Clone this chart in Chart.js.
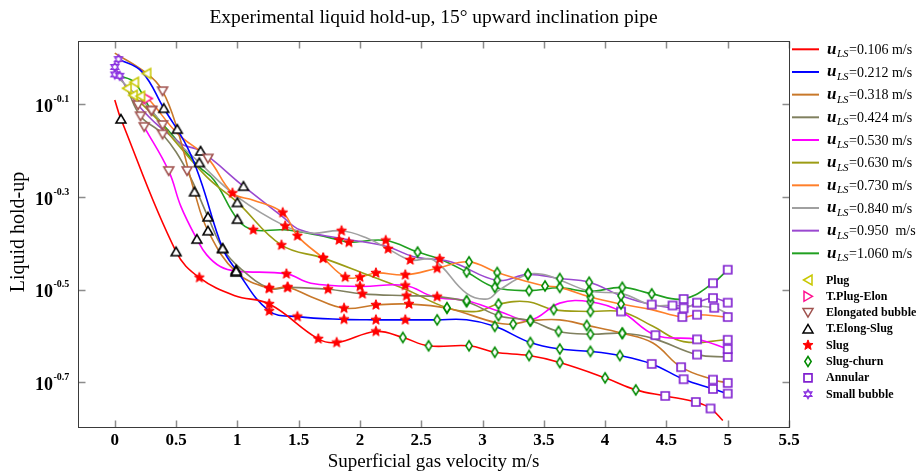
<!DOCTYPE html>
<html>
<head>
<meta charset="utf-8">
<script src="https://cdn.jsdelivr.net/npm/chart.js@4.4.1/dist/chart.umd.min.js"></script>
<style>
  html, body { margin: 0; padding: 0; background: #ffffff; }
  #wrap { width: 922px; height: 473px; }
</style>
</head>
<body>
<div id="wrap"><canvas id="c" width="922" height="473"></canvas></div>
<script>
// Axis ranges: x = superficial gas velocity (m/s), y = log10(liquid hold-up)
const X_MIN = -0.3, X_MAX = 5.5;
const Y_MIN = -0.796, Y_MAX = 0.036;
const xTicks = [0, 0.5, 1, 1.5, 2, 2.5, 3, 3.5, 4, 4.5, 5, 5.5];
const xTickLabels = ['0', '0.5', '1', '1.5', '2', '2.5', '3', '3.5', '4', '4.5', '5', '5.5'];
const yTicks = [-0.7, -0.5, -0.3, -0.1];
const yTickExponents = ['-0.7', '-0.5', '-0.3', '-0.1'];

// Superficial liquid velocities of the ten test series
const liquidVelocities = ['0.106', '0.212', '0.318', '0.424', '0.530', '0.630', '0.730', '0.840', '0.950 ', '1.060'];

// Flow regime codes and their legend names
const regimeCodes = ['P', 'TPE', 'EB', 'TES', 'S', 'SC', 'A', 'SB'];
const regimeNames = ['Plug', 'T.Plug-Elon', 'Elongated bubble', 'T.Elong-Slug', 'Slug', 'Slug-churn', 'Annular', 'Small bubble'];

// u_LS = 0.106 m/s
const vsg_106 = [0.00, 0.05, 0.50, 0.69, 0.98, 1.26, 1.66, 1.81, 2.13, 2.35, 2.56, 2.89, 3.10, 3.38, 3.63, 4.00, 4.25, 4.49, 4.74, 4.86, 4.96];
const hlog_106 = [-0.091, -0.132, -0.418, -0.474, -0.513, -0.531, -0.606, -0.614, -0.590, -0.603, -0.621, -0.621, -0.635, -0.642, -0.657, -0.690, -0.716, -0.729, -0.742, -0.756, -0.782];
const flow_106 = ['', 'TES', 'TES', 'S', '', 'S', 'S', 'S', 'S', 'SC', 'SC', 'SC', 'SC', 'SC', 'SC', 'SC', 'SC', 'A', 'A', 'A', ''];

// u_LS = 0.212 m/s
const vsg_212 = [0.03, 0.22, 0.40, 0.59, 0.70, 0.88, 0.99, 1.26, 1.49, 1.87, 2.13, 2.37, 2.63, 2.87, 3.10, 3.39, 3.63, 3.88, 4.12, 4.38, 4.64, 4.88, 5.00];
const hlog_212 = [-0.003, -0.030, -0.109, -0.192, -0.264, -0.411, -0.457, -0.546, -0.558, -0.564, -0.565, -0.565, -0.565, -0.565, -0.579, -0.614, -0.628, -0.633, -0.642, -0.660, -0.693, -0.714, -0.724];
const flow_212 = ['SB', '', 'TES', '', '', 'TES', 'TES', 'S', 'S', 'S', 'S', 'S', 'SC', '', 'SC', 'SC', 'SC', 'SC', 'SC', 'A', 'A', 'A', 'A'];

// u_LS = 0.318 m/s
const vsg_318 = [0.00, 0.26, 0.39, 0.51, 0.65, 0.76, 0.99, 1.26, 1.41, 1.60, 1.87, 2.13, 2.40, 2.71, 3.12, 3.25, 3.39, 3.63, 3.85, 4.14, 4.39, 4.62, 4.88, 5.00];
const hlog_318 = [0.010, -0.034, -0.072, -0.154, -0.289, -0.373, -0.462, -0.497, -0.495, -0.515, -0.540, -0.533, -0.531, -0.540, -0.572, -0.574, -0.567, -0.565, -0.577, -0.594, -0.615, -0.667, -0.694, -0.701];
const flow_318 = ['', 'P', 'EB', 'TES', 'TES', 'TES', 'TES', 'S', 'S', '', 'S', 'S', 'S', 'SC', '', 'SC', 'SC', '', 'SC', 'SC', '', 'A', 'A', 'A'];

// u_LS = 0.424 m/s
const vsg_424 = [0.10, 0.21, 0.39, 0.59, 0.76, 0.88, 1.02, 1.26, 1.41, 1.74, 2.02, 2.38, 2.63, 2.87, 3.13, 3.39, 3.62, 3.88, 4.14, 4.39, 4.75, 5.00];
const hlog_424 = [-0.066, -0.126, -0.165, -0.244, -0.343, -0.411, -0.453, -0.497, -0.495, -0.499, -0.509, -0.513, -0.515, -0.526, -0.556, -0.567, -0.590, -0.596, -0.594, -0.605, -0.640, -0.645];
const flow_424 = ['P', 'EB', 'EB', 'EB', 'TES', 'TES', '', 'S', 'S', 'S', 'S', 'S', 'S', 'SC', 'SC', 'SC', 'SC', 'SC', 'SC', '', 'A', 'A'];

// u_LS = 0.530 m/s
const vsg_530 = [0.24, 0.44, 0.54, 0.67, 0.75, 0.86, 0.99, 1.40, 1.60, 2.00, 2.37, 2.60, 2.87, 3.14, 3.39, 3.63, 3.88, 4.13, 4.41, 4.75, 5.00];
const hlog_530 = [-0.149, -0.244, -0.321, -0.391, -0.425, -0.450, -0.460, -0.466, -0.486, -0.493, -0.491, -0.515, -0.524, -0.547, -0.565, -0.529, -0.526, -0.547, -0.598, -0.607, -0.628];
const flow_530 = ['EB', 'EB', '', 'TES', '', '', 'TES', 'S', '', 'S', 'S', '', 'SC', '', '', '', 'SC', 'A', 'A', 'A', 'A'];

// u_LS = 0.630 m/s
const vsg_630 = [0.15, 0.39, 0.45, 0.75, 1.00, 1.36, 1.70, 2.06, 2.38, 2.71, 2.95, 3.13, 3.37, 3.58, 3.88, 4.14, 4.39, 4.64, 5.00];
const hlog_630 = [-0.081, -0.145, -0.167, -0.257, -0.312, -0.404, -0.432, -0.468, -0.500, -0.539, -0.547, -0.531, -0.526, -0.543, -0.547, -0.548, -0.579, -0.612, -0.608];
const flow_630 = ['P', 'EB', '', '', 'TES', 'S', 'S', '', '', 'SC', '', 'SC', '', 'SC', 'SC', '', '', '', 'A'];

// u_LS = 0.730 m/s
const vsg_730 = [0.21, 0.27, 0.51, 0.76, 0.96, 1.13, 1.37, 1.49, 1.70, 1.88, 2.00, 2.13, 2.37, 2.63, 2.89, 3.12, 3.37, 3.51, 3.63, 3.88, 4.13, 4.38, 4.63, 4.75, 5.00];
const hlog_730 = [-0.083, -0.088, -0.163, -0.217, -0.292, -0.307, -0.334, -0.384, -0.432, -0.473, -0.473, -0.464, -0.468, -0.454, -0.440, -0.463, -0.483, -0.492, -0.495, -0.516, -0.531, -0.543, -0.559, -0.554, -0.559];
const flow_730 = ['P', 'TPE', '', 'EB', 'S', '', 'S', 'S', 'S', 'S', 'S', 'S', 'S', 'S', 'SC', 'SC', '', 'SC', 'SC', 'SC', 'SC', '', 'A', 'A', 'A'];

// u_LS = 0.840 m/s
const vsg_840 = [0.00, 0.30, 0.44, 0.69, 1.00, 1.39, 1.60, 1.85, 2.06, 2.23, 2.41, 2.60, 2.87, 3.04, 3.14, 3.37, 3.51, 3.63, 3.87, 4.14, 4.38, 4.55, 4.89, 5.00];
const hlog_840 = [-0.036, -0.114, -0.163, -0.226, -0.300, -0.363, -0.378, -0.373, -0.389, -0.412, -0.436, -0.436, -0.508, -0.520, -0.500, -0.467, -0.468, -0.479, -0.503, -0.509, -0.533, -0.534, -0.539, -0.552];
const flow_840 = ['SB', 'EB', '', 'TES', '', 'S', '', 'S', '', 'S', 'S', '', '', '', '', 'SC', '', '', 'SC', '', '', 'A', 'A', ''];

// u_LS = 0.950 m/s
const vsg_950 = [0.00, 0.19, 0.54, 0.70, 1.05, 1.37, 1.51, 1.84, 2.22, 2.44, 2.74, 3.12, 3.37, 3.63, 3.87, 4.13, 4.38, 4.64, 4.75, 4.88, 5.00];
const hlog_950 = [-0.020, -0.102, -0.185, -0.201, -0.277, -0.343, -0.371, -0.389, -0.407, -0.429, -0.440, -0.480, -0.467, -0.476, -0.484, -0.513, -0.532, -0.540, -0.528, -0.518, -0.528];
const flow_950 = ['SB', 'EB', '', 'TES', 'TES', '', '', '', '', '', '', 'SC', 'SC', 'SC', 'SC', 'SC', 'A', 'A', 'A', 'A', 'A'];

// u_LS = 1.060 m/s
const vsg_1060 = [0.04, 0.16, 0.30, 0.48, 0.67, 0.81, 1.00, 1.13, 1.38, 1.65, 1.83, 1.91, 2.21, 2.47, 2.65, 2.87, 3.10, 3.38, 3.63, 3.87, 4.14, 4.38, 4.64, 4.88, 5.00];
const hlog_1060 = [-0.039, -0.053, -0.114, -0.170, -0.231, -0.264, -0.348, -0.371, -0.371, -0.382, -0.393, -0.398, -0.394, -0.419, -0.434, -0.462, -0.495, -0.502, -0.496, -0.504, -0.495, -0.509, -0.520, -0.486, -0.457];
const flow_1060 = ['SB', 'P', 'EB', '', '', '', 'TES', 'S', '', '', 'S', 'S', 'S', 'SC', 'S', 'SC', 'SC', 'SC', '', 'SC', 'SC', 'SC', 'A', 'A', 'A'];

const curveColors = ['#ff0000', '#0000ff', '#c8782a', '#80805f', '#ff00ff', '#9c9c14', '#ff7f2a', '#a0a0a0', '#9a48d0', '#20a020'];

const series = [
  [vsg_106, hlog_106, flow_106], [vsg_212, hlog_212, flow_212], [vsg_318, hlog_318, flow_318],
  [vsg_424, hlog_424, flow_424], [vsg_530, hlog_530, flow_530], [vsg_630, hlog_630, flow_630],
  [vsg_730, hlog_730, flow_730], [vsg_840, hlog_840, flow_840], [vsg_950, hlog_950, flow_950],
  [vsg_1060, hlog_1060, flow_1060]
];

// ---------- marker glyphs ----------
const markerStyle = {
  P:   { color: '#c8c800' },
  TPE: { color: '#ff1090' },
  EB:  { color: '#a0524e' },
  TES: { color: '#000000' },
  S:   { color: '#ff0000' },
  SC:  { color: '#008a00' },
  A:   { color: '#8020d0' },
  SB:  { color: '#8a30e0' }
};

function drawGlyph(ctx, code, cx, cy) {
  const col = markerStyle[code].color;
  ctx.save();
  ctx.lineJoin = 'miter';
  ctx.strokeStyle = col;
  ctx.fillStyle = '#ffffff';
  ctx.lineWidth = 1.5;
  ctx.beginPath();
  if (code === 'P') {
    ctx.moveTo(cx - 4.5, cy); ctx.lineTo(cx + 4, cy - 5); ctx.lineTo(cx + 4, cy + 5); ctx.closePath();
  } else if (code === 'TPE') {
    ctx.moveTo(cx + 4.5, cy); ctx.lineTo(cx - 4, cy - 5); ctx.lineTo(cx - 4, cy + 5); ctx.closePath();
  } else if (code === 'EB') {
    ctx.moveTo(cx, cy + 4.5); ctx.lineTo(cx - 5, cy - 4); ctx.lineTo(cx + 5, cy - 4); ctx.closePath();
  } else if (code === 'TES') {
    ctx.moveTo(cx, cy - 4.5); ctx.lineTo(cx - 5, cy + 4); ctx.lineTo(cx + 5, cy + 4); ctx.closePath();
  } else if (code === 'S') {
    for (let k = 0; k < 10; k++) {
      const r = (k % 2 === 0) ? 5.3 : 2.3;
      const ang = -Math.PI / 2 + k * Math.PI / 5;
      const px = cx + r * Math.cos(ang), py = cy + r * Math.sin(ang);
      if (k === 0) ctx.moveTo(px, py); else ctx.lineTo(px, py);
    }
    ctx.closePath();
    ctx.fillStyle = col;
    ctx.lineWidth = 1;
  } else if (code === 'SC') {
    ctx.moveTo(cx, cy - 5); ctx.lineTo(cx + 3.2, cy); ctx.lineTo(cx, cy + 5); ctx.lineTo(cx - 3.2, cy); ctx.closePath();
  } else if (code === 'A') {
    ctx.rect(cx - 4, cy - 4, 8, 8);
    ctx.lineWidth = 1.7;
  } else if (code === 'SB') {
    for (let t = 0; t < 2; t++) {
      for (let k = 0; k < 3; k++) {
        const ang = (t === 0 ? -Math.PI / 2 : Math.PI / 2) + k * 2 * Math.PI / 3;
        const px = cx + 4.6 * Math.cos(ang), py = cy + 4.6 * Math.sin(ang);
        if (k === 0) ctx.moveTo(px, py); else ctx.lineTo(px, py);
      }
      ctx.closePath();
    }
    ctx.lineWidth = 1.2;
  }
  ctx.fill();
  ctx.stroke();
  ctx.restore();
}

function makeMarker(code) {
  const cv = document.createElement('canvas');
  cv.width = 16; cv.height = 16;
  drawGlyph(cv.getContext('2d'), code, 8, 8);
  return cv;
}

// ---------- datasets ----------
const datasets = [];
series.forEach((s, i) => {
  datasets.push({
    label: 'uLS ' + liquidVelocities[i],
    data: s[0].map((x, k) => ({ x: x, y: s[1][k] })),
    showLine: true,
    borderColor: curveColors[i],
    borderWidth: 1.6,
    pointRadius: 0,
    tension: 0.4,
    fill: false,
    order: 2
  });
});
regimeCodes.forEach((code, j) => {
  const pts = [];
  series.forEach(s => {
    s[2].forEach((r, k) => { if (r === code) pts.push({ x: s[0][k], y: s[1][k] }); });
  });
  datasets.push({
    label: regimeNames[j],
    data: pts,
    showLine: false,
    pointStyle: makeMarker(code),
    pointRadius: 5,
    order: 1
  });
});

// ---------- frame, ticks, labels, title and legend ----------
const SERIF = '"Liberation Serif", "Times New Roman", serif';
const decor = {
  id: 'decor',
  afterDraw(chart) {
    const ctx = chart.ctx, a = chart.chartArea;
    const xs = chart.scales.x, ys = chart.scales.y;
    const L = Math.round(a.left) + 0.5, R = Math.round(a.right) + 0.5;
    const T = Math.round(a.top) + 0.5, B = Math.round(a.bottom) + 0.5;
    ctx.save();

    // inward tick marks
    ctx.strokeStyle = '#8c8c8c';
    ctx.lineWidth = 1.5;
    ctx.beginPath();
    xTicks.forEach(v => {
      const x = Math.round(xs.getPixelForValue(v)) + 0.5;
      ctx.moveTo(x, B); ctx.lineTo(x, B - 7);
      ctx.moveTo(x, T); ctx.lineTo(x, T + 7);
    });
    yTicks.forEach(v => {
      const y = Math.round(ys.getPixelForValue(v)) + 0.5;
      ctx.moveTo(L, y); ctx.lineTo(L + 7, y);
      ctx.moveTo(R, y); ctx.lineTo(R - 7, y);
    });
    ctx.stroke();

    // plot frame
    ctx.strokeStyle = '#3a3a3a';
    ctx.lineWidth = 1;
    ctx.strokeRect(L, T, R - L, B - T);

    ctx.fillStyle = '#000000';
    // x tick labels
    ctx.font = 'bold 17px ' + SERIF;
    ctx.textAlign = 'center';
    ctx.textBaseline = 'alphabetic';
    xTicks.forEach((v, i) => {
      ctx.fillText(xTickLabels[i], xs.getPixelForValue(v), 445);
    });

    // y tick labels 10^e
    yTicks.forEach((v, i) => {
      const y = ys.getPixelForValue(v);
      ctx.textAlign = 'right';
      ctx.font = 'bold 18px ' + SERIF;
      ctx.fillText('10', 53, y + 7.7);
      ctx.textAlign = 'left';
      ctx.font = 'bold 10px ' + SERIF;
      ctx.fillText(yTickExponents[i], 53.5, y - 2.3);
    });

    // axis titles
    ctx.font = '19px ' + SERIF;
    ctx.textAlign = 'center';
    ctx.textBaseline = 'middle';
    ctx.fillText('Superficial gas velocity m/s', (a.left + a.right) / 2, 462);
    ctx.save();
    ctx.translate(19, 232);
    ctx.rotate(-Math.PI / 2);
    ctx.font = '20px ' + SERIF;
    ctx.fillText('Liquid hold-up', 0, 0);
    ctx.restore();

    // chart title
    ctx.font = '19.5px ' + SERIF;
    ctx.fillText('Experimental liquid hold-up, 15\u00b0 upward inclination pipe', (a.left + a.right) / 2, 18);

    // legend: curves
    ctx.textBaseline = 'alphabetic';
    ctx.textAlign = 'left';
    liquidVelocities.forEach((u, i) => {
      const y = 49.3 + i * 22.67;
      ctx.strokeStyle = curveColors[i];
      ctx.lineWidth = 2;
      ctx.beginPath();
      ctx.moveTo(792, y); ctx.lineTo(819, y);
      ctx.stroke();
      let x = 827;
      ctx.font = 'bold italic 17px ' + SERIF;
      ctx.fillText('u', x, y + 4.2);
      x += ctx.measureText('u').width + 0.5;
      ctx.font = 'italic 11px ' + SERIF;
      ctx.fillText('LS', x, y + 8);
      x += ctx.measureText('LS').width + 0.5;
      ctx.font = '14px ' + SERIF;
      ctx.fillText('=' + u + ' m/s', x, y + 4.7);
    });

    // legend: flow regimes
    ctx.font = 'bold 12px ' + SERIF;
    ctx.textBaseline = 'middle';
    regimeCodes.forEach((code, j) => {
      const y = 280 + j * 16.3;
      drawGlyph(ctx, code, 808, y);
      ctx.fillStyle = '#000000';
      ctx.fillText(regimeNames[j], 826, y + 0.5);
    });

    ctx.restore();
  }
};

new Chart(document.getElementById('c'), {
  type: 'scatter',
  data: { datasets: datasets },
  options: {
    responsive: false,
    animation: false,
    events: [],
    layout: { padding: { left: 78, right: 133, top: 41, bottom: 46 } },
    plugins: { legend: { display: false }, tooltip: { enabled: false }, title: { display: false } },
    scales: {
      x: { type: 'linear', min: X_MIN, max: X_MAX, display: false },
      y: { type: 'linear', min: Y_MIN, max: Y_MAX, display: false }
    }
  },
  plugins: [decor]
});
</script>
</body>
</html>
